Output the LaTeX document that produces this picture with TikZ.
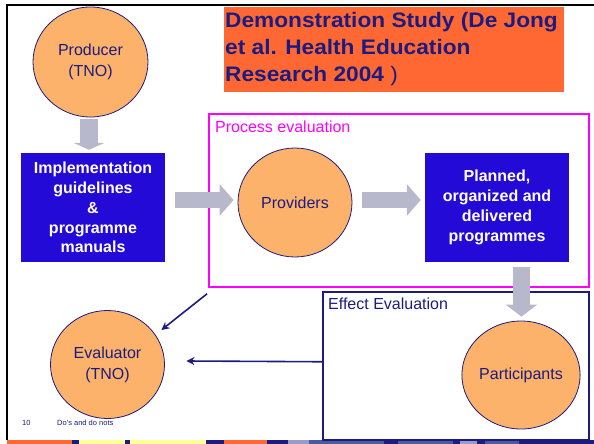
\documentclass[tikz,border=0pt]{standalone}
\usepackage{fontspec}
\setmainfont{Liberation Sans}
\usetikzlibrary{arrows.meta,shapes.geometric,calc}

\definecolor{navy}{RGB}{28,28,128}
\definecolor{boxblue}{RGB}{36,10,214}
\definecolor{ovalfill}{RGB}{252,178,107}
\definecolor{arrowgrey}{RGB}{184,184,204}
\definecolor{titleorange}{RGB}{255,104,51}
\definecolor{procmagenta}{RGB}{255,0,255}
\definecolor{stripeyellow}{RGB}{255,255,150}
\definecolor{stripeslate}{RGB}{76,88,160}
\definecolor{stripelight}{RGB}{152,156,200}

\begin{document}
\begin{tikzpicture}[x=1pt,y=-1pt,
  oval/.style={ellipse, draw=navy, line width=0.8pt, fill=ovalfill, inner sep=0pt,
    text=navy, align=center, font=\fontsize{16}{21}\selectfont},
  bluebox/.style={rectangle, fill=boxblue, inner sep=0pt, text=white, align=center,
    minimum width=144pt, minimum height=109pt,
    font=\fontsize{16}{19.8}\selectfont\bfseries},
  blockarrow/.style={draw=arrowgrey, line width=#1, line cap=butt},
  navyarrow/.style={draw=navy, line width=1.6pt, -{Stealth[length=8pt,width=8pt]}},
  titleline/.style={anchor=base west, inner sep=0pt, text=navy,
    font=\fontsize{21}{27}\selectfont\bfseries\addfontfeature{FakeStretch=1.08}},
  framelabel/.style={anchor=base west, inner sep=0pt, font=\fontsize{16}{19}\selectfont}
]
\useasboundingbox (0,0) rectangle (594,444);

% slide frame
\draw[line width=2pt] (594,5.5) -- (7,5.5) -- (7,440);

% coloured strip along the bottom edge
\foreach \xa/\xb/\col in {7/72/titleorange, 72/79/navy, 79/125/stripeyellow,
  125/130/navy, 130/206/stripeyellow, 206/224/navy, 224/267/titleorange,
  267/288/navy, 288/309/stripelight, 309/384/stripeslate, 384/398/navy,
  398/453/stripeslate, 453/460/navy, 460/477/stripelight, 477/485/navy,
  485/519/stripeslate, 519/594/navy}
  \fill[\col] (\xa,440) rectangle (\xb,444);

% title banner
\node[fill=titleorange, anchor=north west, inner sep=0pt,
  minimum width=340pt, minimum height=85pt] (titlebox) at (224,7) {};
\node[titleline] (title1) at (225,27.3) {Demonstration Study (De Jong};
\node[titleline] (title2) at (225,55) {et al. Health Education};
\node[titleline] (title3) at (225,81.7) {Research 2004 {\mdseries)}};

% evaluation frames
\node[draw=procmagenta, line width=1.8pt, anchor=north west, inner sep=0pt,
  minimum width=380pt, minimum height=173pt] (proc) at (208,113) {};
\node[framelabel, text=procmagenta] (proclabel) at (215,132) {Process evaluation};

\node[draw=navy, line width=1.5pt, anchor=north west, inner sep=0pt,
  minimum width=266pt, minimum height=148pt] (effect) at (322,291) {};
\node[framelabel, text=navy] (effectlabel) at (328,309) {Effect Evaluation};

% actors
\node[oval, minimum width=115pt, minimum height=110pt] (producer) at (90.5,62) {Producer\\(TNO)};
\node[oval, minimum width=114pt, minimum height=109pt] (prov) at (295,202.5) {Providers};
\node[oval, minimum width=114pt, minimum height=108pt] (part) at (521,375) {Participants};
\node[oval, minimum width=114pt, minimum height=108pt] (evaluator) at (107.5,364.5) {Evaluator\\(TNO)};

% materials and programmes
\node[bluebox] (impl) at (93,207.5) {Implementation\\guidelines\\\&\\programme\\manuals};
\node[bluebox] (planned) at (497,207.5) {Planned,\\organized and\\delivered\\programmes};

% grey flow arrows
\draw[blockarrow=18pt, -{Triangle[width=31pt,length=7pt]}]
  ($(producer.south)+(-1.5,2)$) -- ($(impl.north)+(-4,-3)$);
\draw[blockarrow=16pt, -{Triangle[width=31pt,length=14pt]}]
  ($(impl.east)+(10,-7.5)$) -- ($(prov.west)+(-4,-2.5)$);
\draw[blockarrow=16pt, -{Triangle[width=31pt,length=14pt]}]
  ($(prov.east)+(10,-2.5)$) -- ($(planned.west)+(-4,-7.5)$);
\draw[blockarrow=17pt, -{Triangle[width=31pt,length=12pt]}]
  ($(planned.south)+(24.5,5)$) -- ($(part.north)+(0.5,-4)$);

% findings reported back to the evaluator
\coordinate (diagend) at ($(evaluator.east)+(-3.5,-34.5)$);
\draw[navyarrow] ($(proc.south west)+(-1,6)$) -- (diagend);
\coordinate (horizend) at ($(evaluator.east)+(21.5,-3.5)$);
\draw[navyarrow] ($(effect.west)+(0,-4)$) -- (horizend);

% footer
\node[anchor=base west, inner sep=0pt, text=navy, font=\fontsize{7.5}{9}\selectfont]
  (pagenum) at (22,425.5) {10};
\node[anchor=base west, inner sep=0pt, text=navy, font=\fontsize{7.5}{9}\selectfont]
  (footer) at (57,425.5) {Do's and do nots};
\end{tikzpicture}
\end{document}
